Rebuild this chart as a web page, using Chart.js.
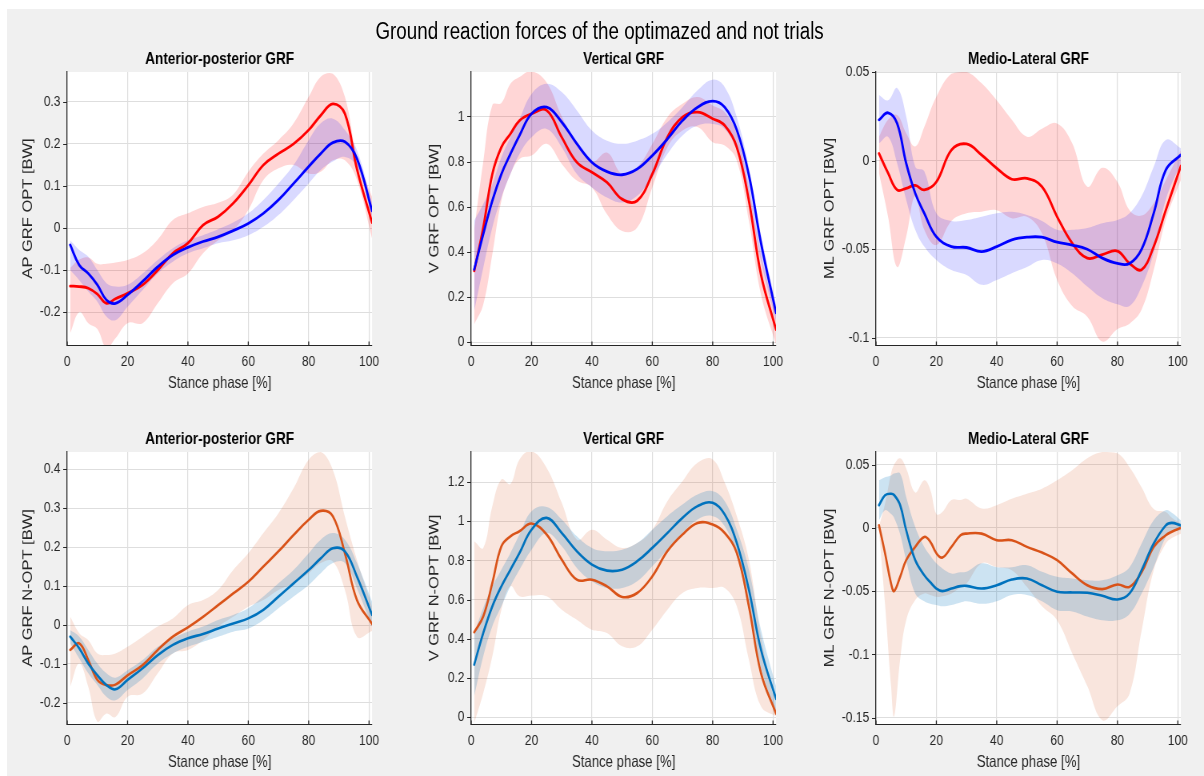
<!DOCTYPE html>
<html>
<head>
<meta charset="utf-8">
<script src="https://cdn.jsdelivr.net/npm/chart.js@4.4.1/dist/chart.umd.min.js"></script>
<style>
  html, body { margin: 0; padding: 0; background: #ffffff; width: 1204px; height: 776px; overflow: hidden; }
  #panel { position: absolute; left: 7px; top: 9px; width: 1197px; height: 767px; background: #f0f0f0; }
  #stage { position: absolute; left: 0; top: 0; width: 1505px; height: 776px; transform: scaleX(0.8); transform-origin: 0 0; }
  #stage canvas { position: absolute; }
  #figTitle { position: absolute; left: 0; top: 19.5px; width: 1499px; text-align: center;
              font: 23.5px/23.5px "Liberation Sans", Arial, Helvetica, sans-serif; color: #000; white-space: nowrap; }
</style>
</head>
<body>
<div id="panel"></div>
<div id="stage">
  <div id="figTitle">Ground reaction forces of the optimazed and not trials</div>
</div>
<script>
// ---- stance phase samples (% of stance) ----
const phase = [1, 4, 7, 10, 13, 16, 20, 25, 30, 35, 40, 45, 50, 55, 60, 65, 70, 75, 80, 84, 88, 92, 96, 101];
const phaseML = [1, 3, 5, 6, 8, 10, 13, 16, 18, 20, 22, 25, 28, 30, 35, 40, 45, 50, 55, 60, 65, 70, 75, 80, 84, 88, 92, 96, 98, 101];
const stanceTicks = [0, 20, 40, 60, 80, 100];

// ---- tick values per panel ----
const apOptTicks = [-0.2, -0.1, 0, 0.1, 0.2, 0.3];
const vOptTicks = [0, 0.2, 0.4, 0.6, 0.8, 1];
const mlOptTicks = [-0.1, -0.05, 0, 0.05];
const apNoptTicks = [-0.2, -0.1, 0, 0.1, 0.2, 0.3, 0.4];
const vNoptTicks = [0, 0.2, 0.4, 0.6, 0.8, 1, 1.2];
const mlNoptTicks = [-0.15, -0.1, -0.05, 0, 0.05];

// ---- Anterior-posterior GRF, optimized trials ----
const apOptRed   = [-0.138,-0.139,-0.143,-0.157,-0.179,-0.168,-0.155,-0.135,-0.100,-0.060,-0.036,0.007,0.027,0.059,0.102,0.150,0.177,0.200,0.233,0.268,0.295,0.272,0.140,0.013];
const apOptRedHi = [-0.095,-0.075,-0.070,-0.085,-0.085,-0.082,-0.076,-0.060,-0.027,0.019,0.035,0.050,0.060,0.080,0.134,0.177,0.209,0.249,0.312,0.360,0.367,0.312,0.170,0.074];
const apOptRedLo = [-0.250,-0.200,-0.226,-0.240,-0.285,-0.262,-0.226,-0.226,-0.179,-0.131,-0.108,-0.060,-0.029,-0.005,0.043,0.114,0.142,0.150,0.130,0.134,0.161,0.161,0.114,-0.025];
const apOptBlue   = [-0.040,-0.088,-0.108,-0.135,-0.171,-0.179,-0.159,-0.127,-0.092,-0.064,-0.046,-0.032,-0.021,-0.006,0.011,0.035,0.067,0.106,0.146,0.177,0.203,0.205,0.165,0.041];
const apOptBlueHi = [-0.029,-0.052,-0.068,-0.100,-0.131,-0.139,-0.135,-0.108,-0.076,-0.048,-0.029,-0.017,-0.003,0.013,0.035,0.067,0.106,0.150,0.209,0.249,0.260,0.233,0.185,0.059];
const apOptBlueLo = [-0.100,-0.124,-0.151,-0.175,-0.210,-0.219,-0.187,-0.147,-0.108,-0.080,-0.060,-0.048,-0.036,-0.029,-0.017,0.003,0.031,0.067,0.106,0.138,0.158,0.169,0.146,0.027];

// ---- Vertical GRF, optimized trials ----
const vOptRed   = [0.316,0.508,0.745,0.864,0.923,0.982,1.012,1.027,0.908,0.797,0.753,0.708,0.634,0.627,0.745,0.908,0.997,1.019,0.990,0.960,0.864,0.627,0.300,0.056];
const vOptRedHi = [0.500,0.800,1.050,1.060,1.145,1.175,1.200,1.150,1.000,0.880,0.800,0.840,0.745,0.775,0.878,0.997,1.056,1.086,1.049,1.019,0.923,0.686,0.390,0.123];
const vOptRedLo = [0.079,0.167,0.390,0.627,0.745,0.812,0.827,0.879,0.790,0.716,0.686,0.567,0.493,0.508,0.686,0.864,0.938,0.953,0.886,0.871,0.804,0.538,0.212,-0.010];
const vOptBlue   = [0.323,0.479,0.627,0.745,0.834,0.916,1.012,1.041,0.975,0.879,0.797,0.756,0.742,0.767,0.827,0.900,0.982,1.041,1.068,1.041,0.940,0.740,0.440,0.130];
const vOptBlueHi = [0.538,0.612,0.700,0.819,0.908,0.990,1.100,1.145,1.108,1.027,0.938,0.893,0.879,0.893,0.923,0.975,1.041,1.116,1.163,1.130,0.997,0.775,0.479,0.167];
const vOptBlueLo = [0.138,0.330,0.508,0.641,0.745,0.834,0.908,0.945,0.864,0.745,0.686,0.641,0.619,0.649,0.730,0.834,0.916,0.960,0.967,0.945,0.849,0.656,0.360,0.093];

// ---- Medio-Lateral GRF, optimized trials ----
const mlOptRed   = [0.004,-0.007,-0.0165,-0.0156,-0.014,-0.0165,-0.012,0.006,0.0094,0.0032,-0.0043,-0.0105,-0.010,-0.0147,-0.0316,-0.0466,-0.055,-0.053,-0.051,-0.058,-0.0615,-0.0485,-0.028,-0.003];
const mlOptRedHi = [0.0135,0.023,0.0257,0.0154,0.008,0.019,0.036,0.049,0.050,0.0436,0.034,0.023,0.0135,0.018,0.021,0.0098,-0.0147,-0.004,-0.012,-0.028,-0.031,-0.024,-0.011,0.006];
const mlOptRedLo = [-0.007,-0.0316,-0.060,-0.043,-0.020,-0.039,-0.0476,-0.034,-0.0297,-0.0288,-0.028,-0.0325,-0.0316,-0.041,-0.0673,-0.082,-0.088,-0.102,-0.095,-0.092,-0.084,-0.0617,-0.0335,-0.011];
const mlOptBlue   = [0.023,0.027,0.021,-0.0015,-0.0184,-0.0297,-0.043,-0.0485,-0.049,-0.0513,-0.0485,-0.0447,-0.0432,-0.0432,-0.046,-0.0476,-0.050,-0.055,-0.058,-0.058,-0.050,-0.0297,-0.0053,0.0032];
const mlOptBlueHi = [0.037,0.034,0.041,0.025,-0.0034,-0.006,-0.0297,-0.034,-0.0335,-0.0316,-0.0297,-0.0288,-0.0306,-0.034,-0.039,-0.039,-0.038,-0.0353,-0.0335,-0.0297,-0.020,-0.0034,0.0117,0.007];
const mlOptBlueLo = [0.0098,0.0135,-0.0015,-0.022,-0.039,-0.0485,-0.056,-0.0617,-0.0645,-0.070,-0.0673,-0.0635,-0.060,-0.056,-0.058,-0.0635,-0.071,-0.0776,-0.081,-0.082,-0.071,-0.052,-0.022,-0.0015];

// ---- Anterior-posterior GRF, non-optimized trials ----
const apNoptOrange   = [-0.064,-0.047,-0.090,-0.141,-0.154,-0.153,-0.129,-0.103,-0.064,-0.030,-0.006,0.021,0.051,0.081,0.111,0.150,0.189,0.231,0.270,0.293,0.279,0.184,0.064,0.003];
const apNoptOrangeHi = [0.021,-0.021,-0.039,-0.073,-0.077,-0.073,-0.056,-0.030,-0.004,0.017,0.051,0.064,0.090,0.141,0.184,0.236,0.287,0.351,0.424,0.444,0.398,0.278,0.167,0.047];
const apNoptOrangeLo = [-0.159,-0.099,-0.159,-0.248,-0.227,-0.236,-0.184,-0.176,-0.124,-0.073,-0.064,-0.039,-0.004,0.021,0.047,0.064,0.090,0.107,0.133,0.159,0.163,0.090,-0.030,-0.015];
const apNoptBlue   = [-0.030,-0.060,-0.099,-0.129,-0.154,-0.165,-0.141,-0.111,-0.077,-0.051,-0.034,-0.023,-0.009,0.004,0.017,0.039,0.073,0.107,0.141,0.171,0.197,0.189,0.124,0.026];
const apNoptBlueHi = [-0.013,-0.030,-0.064,-0.099,-0.124,-0.135,-0.116,-0.090,-0.056,-0.034,-0.017,-0.004,0.013,0.026,0.043,0.073,0.107,0.141,0.184,0.219,0.236,0.219,0.159,0.060];
const apNoptBlueLo = [-0.047,-0.086,-0.124,-0.154,-0.184,-0.193,-0.167,-0.137,-0.099,-0.073,-0.056,-0.043,-0.030,-0.017,-0.009,0.013,0.043,0.073,0.103,0.133,0.159,0.159,0.094,-0.004];

// ---- Vertical GRF, non-optimized trials ----
const vNoptOrange   = [0.434,0.515,0.685,0.872,0.923,0.949,0.988,0.932,0.804,0.702,0.702,0.668,0.614,0.634,0.719,0.847,0.932,0.991,0.983,0.940,0.838,0.566,0.226,0.019];
const vNoptOrangeHi = [0.898,0.864,1.077,1.213,1.190,1.315,1.357,1.272,1.094,0.906,0.957,0.906,0.864,0.889,0.957,1.102,1.204,1.298,1.315,1.196,1.026,0.804,0.413,0.039];
const vNoptOrangeLo = [-0.029,0.124,0.311,0.549,0.668,0.617,0.621,0.617,0.549,0.498,0.447,0.430,0.362,0.362,0.447,0.549,0.634,0.660,0.660,0.660,0.566,0.294,0.056,0.005];
const vNoptBlue   = [0.269,0.430,0.566,0.668,0.753,0.838,0.957,1.017,0.940,0.847,0.779,0.748,0.753,0.796,0.864,0.940,1.017,1.077,1.094,1.034,0.889,0.651,0.345,0.094];
const vNoptBlueHi = [0.430,0.558,0.668,0.753,0.838,0.932,1.051,1.073,1.009,0.923,0.864,0.847,0.855,0.889,0.957,1.026,1.085,1.136,1.153,1.102,0.957,0.753,0.447,0.158];
const vNoptBlueLo = [0.107,0.311,0.464,0.566,0.668,0.753,0.855,0.940,0.872,0.762,0.694,0.660,0.660,0.694,0.770,0.855,0.940,1.009,1.026,0.974,0.821,0.549,0.252,0.022];

// ---- Medio-Lateral GRF, non-optimized trials (sampled on phaseML) ----
const mlNoptOrange   = [0.002,-0.020,-0.044,-0.050,-0.0387,-0.0255,-0.015,-0.0071,-0.011,-0.020,-0.0234,-0.015,-0.0058,-0.0045,-0.0045,-0.0097,-0.0097,-0.015,-0.0195,-0.0255,-0.036,-0.0453,-0.0484,-0.0447,-0.0466,-0.035,-0.015,-0.0058,-0.003,0.000];
const mlNoptOrangeHi = [0.001,0.019,0.043,0.050,0.055,0.047,0.028,0.0376,0.030,0.011,0.0126,0.022,0.022,0.023,0.0153,0.018,0.023,0.027,0.031,0.0376,0.0455,0.055,0.060,0.059,0.048,0.032,0.015,0.0126,0.008,0.0034];
const mlNoptOrangeLo = [-0.002,-0.060,-0.125,-0.149,-0.104,-0.073,-0.057,-0.0518,-0.053,-0.0545,-0.054,-0.0518,-0.047,-0.044,-0.028,-0.031,-0.0334,-0.0466,-0.062,-0.073,-0.099,-0.125,-0.152,-0.141,-0.131,-0.081,-0.0334,-0.0124,-0.008,-0.0045];
const mlNoptBlue   = [0.018,0.0258,0.027,0.026,0.018,-0.0018,-0.0255,-0.0374,-0.043,-0.0479,-0.050,-0.0479,-0.046,-0.0458,-0.0479,-0.0453,-0.0408,-0.040,-0.0453,-0.0505,-0.051,-0.0513,-0.0537,-0.0566,-0.0518,-0.0334,-0.0124,0.002,0.004,0.002];
const mlNoptBlueHi = [0.0376,0.040,0.0415,0.043,0.043,0.0245,0.0008,-0.015,-0.022,-0.028,-0.032,-0.036,-0.035,-0.0347,-0.028,-0.031,-0.031,-0.0295,-0.0347,-0.0387,-0.040,-0.0413,-0.0413,-0.0374,-0.031,-0.0124,0.006,0.014,0.012,0.006];
const mlNoptBlueLo = [0.006,0.014,0.011,0.008,-0.005,-0.0255,-0.0518,-0.058,-0.060,-0.061,-0.062,-0.061,-0.059,-0.058,-0.060,-0.058,-0.053,-0.053,-0.058,-0.065,-0.066,-0.070,-0.073,-0.073,-0.068,-0.0518,-0.031,-0.0071,-0.003,-0.0018];

// ---- styling ----
const FONT = '"Liberation Sans", Arial, Helvetica, sans-serif';
const AXIS = '#262626';
const GRID = '#dedede';
const RED = '#ff0000', BLUE = '#0000ff', ORANGE = '#d95319', MBLUE = '#0072bd';
const RED_BAND = 'rgba(255,0,0,0.16)', BLUE_BAND = 'rgba(0,0,255,0.15)';
const ORANGE_BAND = 'rgba(217,83,25,0.15)', MBLUE_BAND = 'rgba(0,114,189,0.2)';
const SMOOTH = 0.4;

Chart.defaults.font.family = FONT;
Chart.defaults.color = AXIS;

// layout (stage coordinates; the stage is squeezed horizontally by 0.8)
const Y_AXIS_W = 80, X_AXIS_H = 52, TITLE_H = 27, RIGHT_PAD = 16, PLOT_W = 382;
const colLeft = [83.75, 589.4, 1095];
const rowTop = [72, 452];
const rowH = [273, 272];
const yTitleOffset = [48.75, 45.6, 57.5];

// white plotting box behind the data
const plotBg = {
  id: 'plotBg',
  beforeDraw(chart) {
    const { ctx, chartArea: a } = chart;
    ctx.save();
    ctx.fillStyle = '#ffffff';
    ctx.fillRect(a.left, a.top, a.right - a.left, a.bottom - a.top);
    ctx.restore();
  }
};

// short tick marks: y ticks sit just left of the axis, x ticks point up into the box
const axisTicks = {
  id: 'axisTicks',
  afterDatasetsDraw(chart) {
    const { ctx, chartArea: a, scales } = chart;
    ctx.save();
    ctx.strokeStyle = AXIS;
    ctx.beginPath();
    ctx.lineWidth = 1;
    scales.y.ticks.forEach(t => {
      const p = Math.round(scales.y.getPixelForValue(t.value)) + 0.5;
      ctx.moveTo(a.left - 5, p); ctx.lineTo(a.left, p);
    });
    ctx.stroke();
    ctx.beginPath();
    ctx.lineWidth = 1.3;
    scales.x.ticks.forEach(t => {
      const p = scales.x.getPixelForValue(t.value);
      ctx.moveTo(p, a.bottom); ctx.lineTo(p, a.bottom - 3.5);
    });
    ctx.stroke();
    ctx.restore();
  }
};

const fmt = v => String(Number(v.toFixed(4)));

function makePanel(spec) {
  const stage = document.getElementById('stage');
  const cv = document.createElement('canvas');
  const w = Y_AXIS_W + PLOT_W + RIGHT_PAD;
  const h = TITLE_H + rowH[spec.row] + X_AXIS_H;
  cv.width = w; cv.height = h;
  cv.style.left = (colLeft[spec.col] - Y_AXIS_W) + 'px';
  cv.style.top = (rowTop[spec.row] - TITLE_H) + 'px';
  cv.style.width = w + 'px'; cv.style.height = h + 'px';
  stage.appendChild(cv);

  const pts = arr => spec.x.map((x, i) => ({ x, y: arr[i] }));
  const datasets = [];
  const n = spec.series.length;
  spec.series.forEach((s, k) => {
    datasets.push({ data: pts(s.hi), borderColor: 'rgba(0,0,0,0)', borderWidth: 0, pointRadius: 0,
                    fill: false, order: 20 - k, tension: SMOOTH });
    datasets.push({ data: pts(s.lo), borderColor: 'rgba(0,0,0,0)', borderWidth: 0, pointRadius: 0,
                    fill: '-1', backgroundColor: s.band, order: 20 - k, tension: SMOOTH });
  });
  spec.series.forEach((s, k) => {
    datasets.push({ data: pts(s.mean), borderColor: s.color, borderWidth: s.width, pointRadius: 0,
                    fill: false, order: n - k, tension: SMOOTH,
                    borderCapStyle: 'round', borderJoinStyle: 'round' });
  });

  return new Chart(cv, {
    type: 'line',
    data: { datasets },
    plugins: [plotBg, axisTicks],
    options: {
      responsive: false,
      animation: false,
      devicePixelRatio: 1,
      events: [],
      layout: { padding: { left: 0, right: RIGHT_PAD, top: 0, bottom: 0 } },
      plugins: {
        legend: { display: false },
        tooltip: { enabled: false },
        title: {
          display: true, text: spec.title, fullSize: false, color: '#000000',
          font: { size: 17, weight: 'bold' }, padding: { top: 4, bottom: 2.6 }
        }
      },
      scales: {
        x: {
          type: 'linear', min: 0, max: 101,
          afterBuildTicks: s => { s.ticks = stanceTicks.map(v => ({ value: v })); },
          afterFit: s => { s.height = X_AXIS_H; },
          grid: { color: GRID, drawTicks: false, lineWidth: 1.2 },
          border: { color: AXIS, width: 1 },
          ticks: { padding: 8, font: { size: 15 }, color: AXIS, maxRotation: 0, autoSkip: false },
          title: { display: true, text: 'Stance phase [%]', color: AXIS, font: { size: 16.5 },
                   padding: { top: 0, bottom: 3.8 } }
        },
        y: {
          type: 'linear', min: spec.yMin, max: spec.yMax,
          afterBuildTicks: s => { s.ticks = spec.yTicks.map(v => ({ value: v })); },
          afterFit: s => { s.width = Y_AXIS_W; },
          grid: { color: GRID, drawTicks: false },
          border: { color: AXIS, width: 1.3 },
          ticks: { padding: 8.5, font: { size: 15 }, color: AXIS, autoSkip: false, callback: v => fmt(v) },
          title: { display: true, text: spec.yLabel, color: AXIS, font: { size: 16.5 },
                   padding: { top: Y_AXIS_W - 9.9 - yTitleOffset[spec.col], bottom: 0 } }
        }
      }
    }
  });
}

const topSeries = (r, rh, rl, b, bh, bl) => [
  { mean: r, hi: rh, lo: rl, color: RED, band: RED_BAND, width: 2.8 },
  { mean: b, hi: bh, lo: bl, color: BLUE, band: BLUE_BAND, width: 2.8 }
];
const bottomSeries = (o, oh, ol, b, bh, bl) => [
  { mean: o, hi: oh, lo: ol, color: ORANGE, band: ORANGE_BAND, width: 2.6 },
  { mean: b, hi: bh, lo: bl, color: MBLUE, band: MBLUE_BAND, width: 2.6 }
];

makePanel({ row: 0, col: 0, title: 'Anterior-posterior GRF', yLabel: 'AP GRF OPT [BW]',
  yMin: -0.278, yMax: 0.371, yTicks: apOptTicks, x: phase,
  series: topSeries(apOptRed, apOptRedHi, apOptRedLo, apOptBlue, apOptBlueHi, apOptBlueLo) });
makePanel({ row: 0, col: 1, title: 'Vertical GRF', yLabel: 'V GRF OPT [BW]',
  yMin: -0.012, yMax: 1.197, yTicks: vOptTicks, x: phase,
  series: topSeries(vOptRed, vOptRedHi, vOptRedLo, vOptBlue, vOptBlueHi, vOptBlueLo) });
makePanel({ row: 0, col: 2, title: 'Medio-Lateral GRF', yLabel: 'ML GRF OPT [BW]',
  yMin: -0.104, yMax: 0.05, yTicks: mlOptTicks, x: phase,
  series: topSeries(mlOptRed, mlOptRedHi, mlOptRedLo, mlOptBlue, mlOptBlueHi, mlOptBlueLo) });
makePanel({ row: 1, col: 0, title: 'Anterior-posterior GRF', yLabel: 'AP GRF N-OPT [BW]',
  yMin: -0.254, yMax: 0.444, yTicks: apNoptTicks, x: phase,
  series: bottomSeries(apNoptOrange, apNoptOrangeHi, apNoptOrangeLo, apNoptBlue, apNoptBlueHi, apNoptBlueLo) });
makePanel({ row: 1, col: 1, title: 'Vertical GRF', yLabel: 'V GRF N-OPT [BW]',
  yMin: -0.034, yMax: 1.353, yTicks: vNoptTicks, x: phase,
  series: bottomSeries(vNoptOrange, vNoptOrangeHi, vNoptOrangeLo, vNoptBlue, vNoptBlueHi, vNoptBlueLo) });
makePanel({ row: 1, col: 2, title: 'Medio-Lateral GRF', yLabel: 'ML GRF N-OPT [BW]',
  yMin: -0.155, yMax: 0.06, yTicks: mlNoptTicks, x: phaseML,
  series: bottomSeries(mlNoptOrange, mlNoptOrangeHi, mlNoptOrangeLo, mlNoptBlue, mlNoptBlueHi, mlNoptBlueLo) });
</script>
</body>
</html>
